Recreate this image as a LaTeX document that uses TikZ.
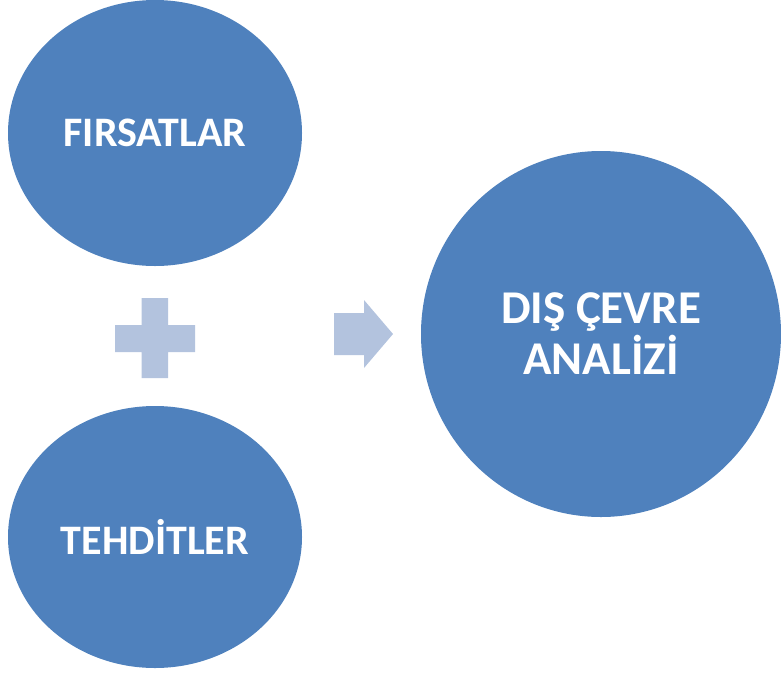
\documentclass[tikz,border=0pt]{standalone}
\usepackage{fontspec}
\setmainfont{Carlito}
\usepackage{xcolor}
\usetikzlibrary{shapes.geometric}
\definecolor{blobblue}{HTML}{4F81BD}
\definecolor{signblue}{HTML}{B3C3DE}

\begin{document}
\begin{tikzpicture}[
    x=1pt, y=-1pt,
    blob/.style={ellipse, fill=blobblue, inner sep=0pt, text=white,
      align=center, font=\bfseries\fontsize{42}{50}\selectfont},
    sign/.style={fill=signblue}
  ]
    \useasboundingbox (0,0) rectangle (781,675);
    \node[blob, minimum width=294pt, minimum height=266pt] (firsat) at (155,133) {FIRSATLAR};
    \node[blob, minimum width=294pt, minimum height=262pt] (tehdit) at (155,537) {TEHDİTLER};
    \node[blob, minimum width=360pt, minimum height=366pt,
      font=\bfseries\fontsize{47}{51}\selectfont] (dis) at (601,334) {DIŞ ÇEVRE\\ANALİZİ};
    % plus sign
    \fill[sign] (141.5,298) -- (168,298) -- (168,325) -- (195,325) -- (195,352)
      -- (168,352) -- (168,378) -- (141.5,378) -- (141.5,352) -- (115,352)
      -- (115,325) -- (141.5,325) -- cycle;
    % arrow
    \fill[sign] (334,313) -- (364,313) -- (364,300) -- (393,334) -- (364,368)
      -- (364,355) -- (334,355) -- cycle;
  \end{tikzpicture}
\end{document}
